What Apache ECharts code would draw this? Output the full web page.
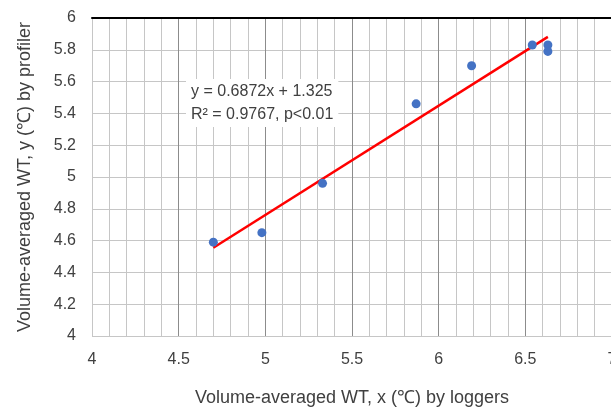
<!DOCTYPE html>
<html>
<head>
<meta charset="utf-8">
<script src="https://cdn.jsdelivr.net/npm/echarts@6/dist/echarts.min.js"></script>
<style>html,body{margin:0;padding:0;background:#fff}#c{width:611px;height:410px}</style>
</head>
<body>
<div id="c"></div>
<script>
// Data
const xValues = [4.70, 4.98, 5.33, 5.87, 6.19, 6.54, 6.63, 6.63];
const yValues = [4.59, 4.65, 4.96, 5.46, 5.70, 5.83, 5.83, 5.79];
const slope = 0.6872;
const intercept = 1.325;
const trendX = [4.70, 6.63];
const equationLines = ['y = 0.6872x + 1.325', 'R² = 0.9767, p<0.01'];
const xTitle = 'Volume-averaged WT, x (℃) by loggers';
const yTitle = 'Volume-averaged WT, y (℃) by profiler';

const points = xValues.map((x, i) => [x, yValues[i]]);
const trend = trendX.map(x => [x, slope * x + intercept]);

const FONT = '"Liberation Sans", Arial, sans-serif';
const chart = echarts.init(document.getElementById('c'), null, {renderer: 'canvas'});
chart.setOption({
  animation: false,
  backgroundColor: '#fff',
  textStyle: {fontFamily: FONT},
  grid: {left: 92, right: -1, top: 18, bottom: 74, containLabel: false, outerBoundsMode: 'none'},
  xAxis: [{
    type: 'value', min: 4, max: 7, interval: 0.5,
    name: xTitle, nameLocation: 'middle', nameGap: 53,
    nameTextStyle: {fontSize: 18, color: '#404040', fontFamily: FONT},
    axisLine: {show: false},
    axisTick: {show: false},
    axisLabel: {fontSize: 16, color: '#404040', margin: 16, fontFamily: FONT, hideOverlap: false},
    splitLine: {show: true, lineStyle: {color: '#8c8c8c', width: 1}},
    minorTick: {show: false, splitNumber: 5},
    minorSplitLine: {show: true, lineStyle: {color: '#c6c6c6', width: 1}}
  }, {
    type: 'value', min: 4, max: 7, position: 'top',
    axisLine: {show: true, onZero: false, lineStyle: {color: '#000', width: 2}},
    axisTick: {show: false}, axisLabel: {show: false}, splitLine: {show: false}
  }],
  yAxis: {
    type: 'value', min: 4, max: 6, interval: 0.2,
    name: yTitle, nameLocation: 'middle', nameGap: 58,
    nameTextStyle: {fontSize: 18, color: '#404040', fontFamily: FONT},
    axisLine: {show: true, lineStyle: {color: '#c6c6c6'}},
    axisTick: {show: false},
    axisLabel: {fontSize: 16, color: '#404040', margin: 16, fontFamily: FONT,
      formatter: v => String(Math.round(v * 10) / 10)},
    splitLine: {show: true, lineStyle: {color: '#c6c6c6', width: 1}}
  },
  series: [{
    type: 'line', data: trend, showSymbol: false, symbol: 'none',
    lineStyle: {color: '#ff0000', width: 2.5}, z: 3
  }, {
    type: 'scatter', data: points, symbolSize: 9,
    itemStyle: {color: '#4472c4', opacity: 1}, z: 4
  }],
  graphic: [{
    type: 'text', left: 186, top: 79, z: 10,
    style: {
      text: equationLines.join('\n'),
      fontSize: 16, lineHeight: 23, fill: '#404040', fontFamily: FONT,
      backgroundColor: '#fff', padding: [1, 5, 1, 5]
    }
  }]
});
</script>
</body>
</html>
